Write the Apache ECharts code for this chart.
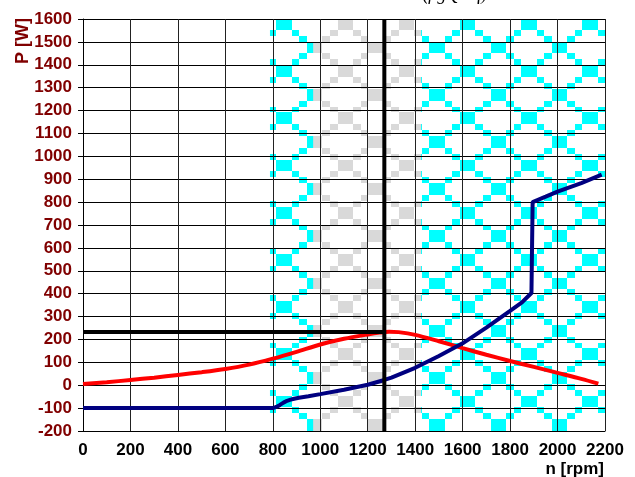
<!DOCTYPE html>
<html>
<head>
<meta charset="utf-8">
<script src="https://cdn.jsdelivr.net/npm/echarts@6/dist/echarts.min.js"></script>
<style>
html,body{margin:0;padding:0;background:#fff;}
#chart{width:635px;height:477px;}
</style>
</head>
<body>
<div id="chart"></div>
<script>
// ---- data ----
const xMin = 0, xMax = 2200, xStep = 200;
const yMin = -200, yMax = 1600, yStep = 100;
const redX = [0,100,200,300,400,500,600,700,800,900,1000,1100,1200,1250,1290,1330,1400,1500,1600,1700,1800,1900,2000,2100,2172];
const redY = [5,13,23,33,45,57,71,90,116,146,178,203,222,230,234,232,220,192,162,133,106,80,54,28,7];
const blueX = [0,800,815,830,845,860,875,890,910,950,1000,1100,1200,1270,1300,1400,1500,1600,1700,1800,1850,1890,1895,1950,2000,2100,2186];
const blueY = [-100,-100,-95,-86,-76,-68,-63,-59,-55,-48,-39,-20,2,23,33,76,128,183,252,325,362,403,800,824,846,883,920];
const markX = 1270;          // vertical black line
const markY = 233;           // horizontal black line
const cyanBand = [788, 2200];
const grayBand = [970, 1425];
const xTitle = 'n [rpm]';
const yTitle = 'P [W]';
const topText = '(ρgQHη)';

// ---- pattern styles ----
const PAT_OX = 31.6, PAT_PX = 61.2, PAT_OY = 18, PAT_PY = 47.2;
const CELLS = [[0,0],[1,0],[0,1],[1,1],[2,2],[7,2],[3,3],[6,3],[4,4],[5,4],[4,5],[5,5],[3,6],[6,6],[2,7],[7,7]];
function makePattern(color, bg){
  const c = document.createElement('canvas'); c.width = 635; c.height = 477;
  const g = c.getContext('2d');
  if (bg){ g.fillStyle = bg; g.fillRect(0,0,635,477); }
  g.fillStyle = color;
  const CW = PAT_PX/8, RH = PAT_PY/8;
  for (let ty=-1; ty<13; ty++) for (let tx=-1; tx<13; tx++){
    const bx = PAT_OX + tx*PAT_PX, by = PAT_OY + ty*PAT_PY;
    for (const [col,row] of CELLS){
      const x0 = Math.round(bx+col*CW), x1 = Math.round(bx+(col+1)*CW);
      const y0 = Math.round(by+row*RH), y1 = Math.round(by+(row+1)*RH);
      g.fillRect(x0,y0,x1-x0,y1-y0);
    }
  }
  return c;
}
const cyanPat = makePattern('#00ffff', null);
const grayPat = makePattern('#d9d9d9', '#ffffff');

function bandSeries(band, pat){
  return {
    type:'custom', z:0, silent:true, animation:false,
    data:[band], encode:{x:[0,1]},
    renderItem:function(params, api){
      const p0 = api.coord([api.value(0), yMax]);
      const p1 = api.coord([api.value(1), yMin]);
      return {type:'rect', shape:{x:p0[0], y:p0[1], width:p1[0]-p0[0], height:p1[1]-p0[1]},
              style:{fill:{image:pat, repeat:'no-repeat'}}};
    }
  };
}

const zip = (a,b)=>a.map((v,i)=>[v,b[i]]);
const chart = echarts.init(document.getElementById('chart'), null, {renderer:'canvas'});
const font = 'Liberation Sans, Arial, sans-serif';
chart.setOption({
  animation:false,
  backgroundColor:'#ffffff',
  grid:{left:83, right:30, top:19, bottom:46, show:false},
  xAxis:{type:'value', min:xMin, max:xMax, interval:xStep, z:1,
    axisLine:{show:true, onZero:false, lineStyle:{color:'#000', width:1}},
    axisTick:{show:false},
    splitLine:{show:true, lineStyle:{color:'#222', width:1}},
    axisLabel:{color:'#000', fontFamily:font, fontWeight:'bold', fontSize:17, margin:11,
      formatter:function(v){return String(v);}}
  },
  yAxis:{type:'value', min:yMin, max:yMax, interval:yStep, z:1,
    axisLine:{show:true, onZero:false, lineStyle:{color:'#000', width:1}},
    axisTick:{show:true, length:5, lineStyle:{color:'#000'}},
    splitLine:{show:true, lineStyle:{color:'#000', width:1}},
    axisLabel:{color:'#800000', fontFamily:font, fontWeight:'bold', fontSize:17, margin:11,
      formatter:function(v){return String(v);}}
  },
  graphic:[
    {type:'text', x:23, y:41, rotation:Math.PI/2, z:10,
     style:{text:yTitle, fill:'#800000', font:'bold 18px '+font, align:'center', verticalAlign:'middle'}},
    {type:'text', x:604, y:469, z:10,
     style:{text:xTitle, fill:'#000', font:'bold 17px '+font, align:'right', verticalAlign:'middle'}},
    {type:'text', x:455, y:-5, z:10,
     style:{text:topText, fill:'#000', font:'italic 18px Liberation Serif, Times New Roman, serif', align:'center', verticalAlign:'middle'}}
  ],
  series:[
    bandSeries(cyanBand, cyanPat),
    bandSeries(grayBand, grayPat),
    {type:'line', z:2, data:zip(redX, redY), showSymbol:false, symbol:'none', smooth:0.3,
     lineStyle:{color:'#ff0000', width:4}},
    {type:'line', z:2, data:zip(blueX, blueY), showSymbol:false, symbol:'none',
     lineStyle:{color:'#000080', width:4}},
    {type:'line', z:3, data:[[xMin, markY],[markX, markY]], showSymbol:false, symbol:'none',
     lineStyle:{color:'#000', width:4}},
    {type:'line', z:3, data:[[markX, yMin],[markX, yMax]], showSymbol:false, symbol:'none',
     lineStyle:{color:'#000', width:4}}
  ]
});
</script>
</body>
</html>
